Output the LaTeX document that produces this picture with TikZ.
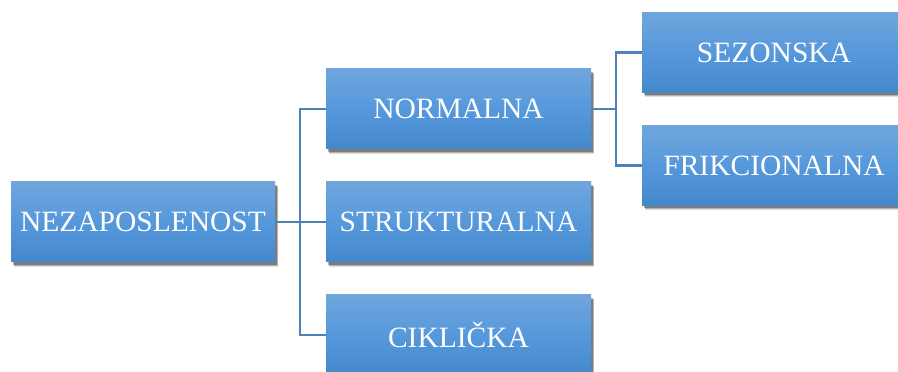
\documentclass[tikz,border=0pt]{standalone}
\usepackage{fontspec}
\setmainfont{Liberation Serif}
\usetikzlibrary{shadows}
\definecolor{boxtop}{RGB}{112,166,221}
\definecolor{boxmid}{RGB}{86,152,220}
\definecolor{boxbot}{RGB}{68,136,204}
\definecolor{linkc}{RGB}{79,129,185}
\tikzset{
  box/.style={rectangle, minimum width=264pt, minimum height=80pt, inner sep=0pt,
    top color=boxtop, bottom color=boxbot, middle color=boxmid, draw=none,
    text=white, font=\fontsize{29.5}{34}\selectfont,
    drop shadow={shadow xshift=3pt, shadow yshift=-5pt, opacity=0.12, fill=black},
    drop shadow={shadow xshift=2.5pt, shadow yshift=-4pt, opacity=0.2, fill=black},
    drop shadow={shadow xshift=2pt, shadow yshift=-3pt, opacity=0.3, fill=black}},
  link/.style={draw=linkc, line width=2.8pt}
}
\begin{document}
\begin{tikzpicture}[x=1pt,y=1pt]
\clip (0,0) rectangle (898,372);
\fill[white] (0,0) rectangle (898,372);
\node[box] (n0) at (143,150) {NEZAPOSLENOST};
\node[box, minimum width=265pt] (n1) at (458.5,263) {NORMALNA};
\node[box, minimum width=265pt] (n2) at (458.5,150) {STRUKTURALNA};
\node[box, minimum width=265pt] (n3) at (458.5,37) {CIKLIČKA};
\node[box] (n4) at (774,319.5) {SEZONSKA};
\node[box] (n5) at (774,206.5) {FRIKCIONALNA};
\coordinate (j1) at (300,150);
\coordinate (j2) at (616,263);
\draw[link] (n0.east) -- (j1);
\draw[link] (j1) |- (n1.west);
\draw[link] (j1) -- (n2.west);
\draw[link] (j1) |- (n3.west);
\draw[link] (n1.east) -- (j2);
\draw[link] (j2) |- (n4.west);
\draw[link] (j2) |- (n5.west);
\end{tikzpicture}
\end{document}
